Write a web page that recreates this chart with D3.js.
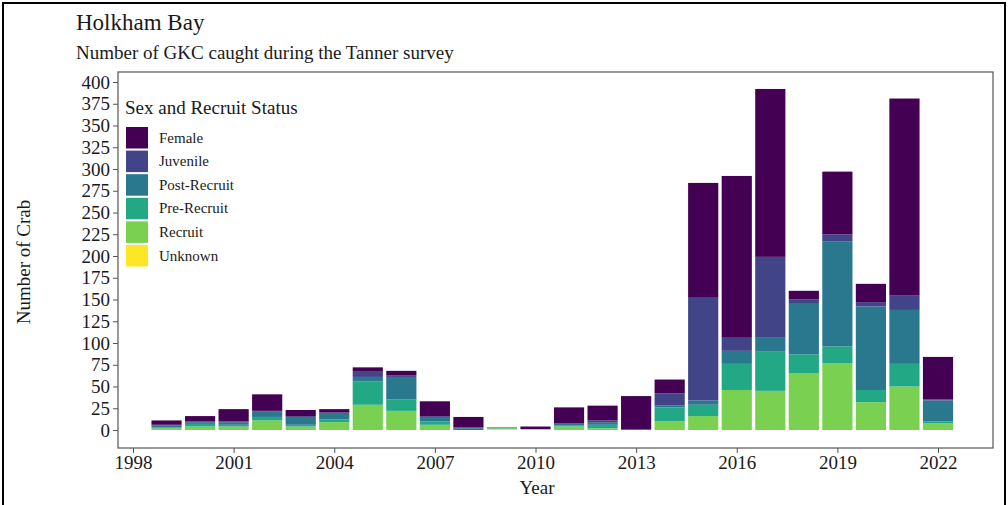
<!DOCTYPE html>
<html>
<head>
<meta charset="utf-8">
<script src="https://cdn.jsdelivr.net/npm/d3@7"></script>
<style>
  html, body { margin: 0; padding: 0; background: #fff; }
  svg text { font-family: "Liberation Serif", "DejaVu Serif", serif; fill: #1a1a1a; }
</style>
</head>
<body>
<svg id="chart" width="1008" height="505"></svg>
<script>
// Survey years
const years = [1999, 2000, 2001, 2002, 2003, 2004, 2005, 2006, 2007, 2008, 2009, 2010,
               2011, 2012, 2013, 2014, 2015, 2016, 2017, 2018, 2019, 2020, 2021, 2022];

// Catch by sex / recruit status (stacked bottom-up: Unknown, Recruit, Pre-Recruit, Post-Recruit, Juvenile, Female)
const female      = [5, 6, 14, 19, 7, 4, 5, 5, 17, 12, 0, 3, 18, 17, 38, 16, 132, 186, 193, 10, 72, 21, 226, 49];
const juvenile    = [1, 1, 1, 1, 1, 0, 6, 2, 1, 1, 0, 0, 0, 2, 0, 14, 118, 15, 93, 5, 8, 5, 17, 1];
const postRecruit = [2, 2, 3, 6, 9, 8, 5, 26, 5, 2, 1, 0, 3, 3, 1, 2, 5, 15, 16, 58, 121, 96, 62, 24];
const preRecruit  = [1, 3, 2, 4, 2, 3, 27, 13, 4, 0, 0, 0, 1, 4, 0, 16, 13, 30, 45, 22, 19, 14, 26, 2];
const recruit     = [2, 4, 4, 11, 4, 9, 29, 22, 6, 0, 1, 0, 4, 2, 0, 10, 16, 46, 45, 65, 77, 32, 50, 8];
const unknown     = [0, 0, 0, 0, 0, 0, 0, 0, 0, 0, 1, 1, 0, 0, 0, 0, 0, 0, 0, 0, 0, 0, 0, 0];

const statusNames  = ["Female", "Juvenile", "Post-Recruit", "Pre-Recruit", "Recruit", "Unknown"];
const statusColors = ["#440154", "#414487", "#2A788E", "#22A884", "#7AD151", "#FDE725"];
const yTicks = d3.range(0, 401, 25);
const xTicks = [1998, 2001, 2004, 2007, 2010, 2013, 2016, 2019, 2022];

const rows = years.map((yr, i) => ({
  year: yr,
  "Female": female[i], "Juvenile": juvenile[i], "Post-Recruit": postRecruit[i],
  "Pre-Recruit": preRecruit[i], "Recruit": recruit[i], "Unknown": unknown[i]
}));

const svg = d3.select("#chart");

// outer frame
svg.append("path")
  .attr("d", "M3,505 L3,3 L1005,3 L1005,505")
  .attr("fill", "none").attr("stroke", "#000").attr("stroke-width", 2);

const panel = { left: 118, right: 993, top: 72, bottom: 448 };

const x = d3.scaleLinear().domain([1998, 2022]).range([133, 938]);
const y = d3.scaleLinear().domain([0, 400]).range([430, 82]);
const barW = 0.9 * (x(1) - x(0));

// stack order: last key drawn at bottom
const stackKeys = statusNames.slice().reverse();
const series = d3.stack().keys(stackKeys)(rows);
const color = d3.scaleOrdinal().domain(statusNames).range(statusColors);

// panel background
svg.append("rect")
  .attr("x", panel.left).attr("y", panel.top)
  .attr("width", panel.right - panel.left).attr("height", panel.bottom - panel.top)
  .attr("fill", "#fff");

const barsG = svg.append("g");
series.forEach(s => {
  barsG.append("g").attr("fill", color(s.key))
    .selectAll("rect").data(s).join("rect")
    .attr("x", d => x(d.data.year) - barW / 2)
    .attr("width", barW)
    .attr("y", d => y(d[1]))
    .attr("height", d => Math.max(0, y(d[0]) - y(d[1])));
});

// panel border
svg.append("rect")
  .attr("x", panel.left).attr("y", panel.top)
  .attr("width", panel.right - panel.left).attr("height", panel.bottom - panel.top)
  .attr("fill", "none").attr("stroke", "#555").attr("stroke-width", 1.2);

// y axis
const yAxis = d3.axisLeft(y).tickValues(yTicks).tickSize(5).tickPadding(3);
const yg = svg.append("g").attr("transform", `translate(${panel.left},0)`).call(yAxis);
yg.select(".domain").remove();
yg.selectAll(".tick line").attr("stroke", "#555");
yg.selectAll(".tick text").attr("font-size", 19).attr("fill", "#333")
  .style("font-family", '"Liberation Serif", serif');

// x axis
const xAxis = d3.axisBottom(x).tickValues(xTicks).tickFormat(d3.format("d")).tickSize(5).tickPadding(3);
const xg = svg.append("g").attr("transform", `translate(0,${panel.bottom})`).call(xAxis);
xg.select(".domain").remove();
xg.selectAll(".tick line").attr("stroke", "#555");
xg.selectAll(".tick text").attr("font-size", 19).attr("fill", "#333")
  .style("font-family", '"Liberation Serif", serif');

// titles
svg.append("text").attr("x", 76).attr("y", 30).attr("font-size", 23).text("Holkham Bay");
svg.append("text").attr("x", 76).attr("y", 59).attr("font-size", 19)
  .text("Number of GKC caught during the Tanner survey");
svg.append("text").attr("x", 537).attr("y", 494).attr("text-anchor", "middle")
  .attr("font-size", 19).text("Year");
svg.append("text").attr("transform", "translate(30,262) rotate(-90)")
  .attr("text-anchor", "middle").attr("font-size", 19).text("Number of Crab");

// legend
const lg = svg.append("g");
lg.append("text").attr("x", 125).attr("y", 114).attr("font-size", 19).text("Sex and Recruit Status");
statusNames.forEach((name, i) => {
  const top = 127 + i * 23.6;
  lg.append("rect").attr("x", 126).attr("y", top).attr("width", 22).attr("height", 21.5)
    .attr("fill", color(name));
  lg.append("text").attr("x", 159).attr("y", top + 15.5).attr("font-size", 15).text(name);
});
</script>
</body>
</html>
